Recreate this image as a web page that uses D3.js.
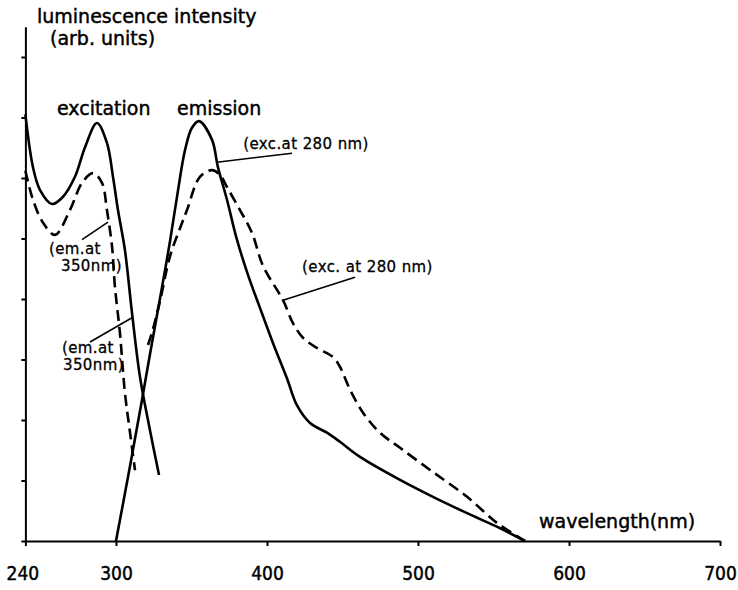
<!DOCTYPE html>
<html>
<head>
<meta charset="utf-8">
<title>luminescence spectra</title>
<script src="https://d3js.org/d3.v7.min.js"></script>
<style>
  body { margin: 0; background: #fff; }
  text { font-family: "DejaVu Sans", sans-serif; fill: #000; stroke: #000; stroke-width: 0.45px; }
</style>
</head>
<body>
<script>
const w = 738;
const h = 590;

// excitation spectra, em. at 350 nm (wavelength nm / intensity arb. units)
const excSolidNm = [240, 245, 249.7, 257.6, 264.9, 272.8, 279.5, 287.4, 294, 298, 301.3, 305.9, 310.6, 315.9, 322.5, 328.5];
const excSolidI  = [7.05, 6.18, 5.80, 5.57, 5.69, 6.02, 6.51, 6.91, 6.58, 6.02, 5.47, 4.81, 3.77, 2.71, 1.83, 1.09];
const excDashNm  = [240, 245, 251.7, 259.6, 269.5, 277.5, 284.8, 290.7, 294, 297.4, 299.3, 302.6, 305.9, 309.3, 312.6];
const excDashI   = [6.12, 5.64, 5.26, 5.06, 5.47, 5.92, 6.08, 5.92, 5.47, 4.86, 4.20, 3.44, 2.45, 1.79, 1.17];

// emission spectra, exc. at 280 nm
const emSolidNm = [300, 309.3, 317.2, 323.8, 330.5, 335.8, 341.1, 345.7, 350.3, 355, 363.6, 367.5, 373.5, 380.1, 387.4, 395.4, 404, 413.2, 419.9, 428.5, 439.7, 448.3, 461.6, 488.1, 509.9, 532.5, 554.4, 570.9];
const emSolidI  = [0, 1.24, 2.33, 3.27, 4.20, 4.96, 5.80, 6.46, 6.83, 6.94, 6.63, 6.18, 5.64, 4.98, 4.40, 3.85, 3.27, 2.69, 2.24, 1.95, 1.79, 1.64, 1.39, 1.01, 0.73, 0.46, 0.21, 0];
const emDashNm  = [321.2, 323.8, 329.1, 335.8, 342.4, 347, 355.6, 363.6, 368.9, 373.5, 382.1, 390.1, 397.3, 410.6, 417.2, 423.8, 433.1, 443.7, 448.3, 455, 463.6, 474.8, 488.1, 509.9, 532.5, 552.3, 570.9];
const emDashI   = [3.24, 3.44, 3.96, 4.71, 5.17, 5.47, 6.02, 6.13, 6.05, 5.85, 5.47, 5.09, 4.55, 3.98, 3.60, 3.36, 3.19, 3.04, 2.88, 2.50, 2.12, 1.79, 1.54, 1.14, 0.73, 0.30, 0];

const xTicks = [240, 300, 400, 500, 600, 700];
const yTicks = [0, 1, 2, 3, 4, 5, 6, 7, 8];

// small labels with leader lines (nm / arb. units)
const noteText   = [["(exc.at 280 nm)"], ["(exc. at 280 nm)"], ["(em.at", "350nm)"], ["(em.at", "350nm)"]];
const noteAt     = [[384.2, 6.48], [423.2, 4.44], [255.6, 4.74], [264.2, 3.11]];
const noteIndent = [0, 0, 12, 1];
const noteFrom   = [[366.8, 6.26], [410.6, 3.98], [294.7, 5.27], [310.6, 3.69]];
const noteTo     = [[416.6, 6.41], [458.3, 4.36], [277.5, 4.98], [282.8, 3.29]];

const svg = d3.select("body")
    .append("svg")
    .attr("width", w)
    .attr("height", h);

const xScale = d3.scaleLinear()
    .domain([240, 700])
    .range([25.4, 720]);

const yScale = d3.scaleLinear()
    .domain([0, 8.5])
    .range([541, 26.75]);

const xAxis = d3.axisBottom(xScale)
    .tickValues(xTicks)
    .tickSize(5)
    .tickPadding(21)
    .tickSizeOuter(0);

const yAxis = d3.axisLeft(yScale)
    .tickValues(yTicks)
    .tickSize(4)
    .tickFormat("")
    .tickSizeOuter(0);

const gx = svg.append("g")
    .attr("transform", "translate(0," + yScale(0) + ")")
    .call(xAxis);
gx.selectAll("text")
    .attr("fill", "#000")
    .style("font-size", "19px")
    .style("font-family", "'DejaVu Sans Condensed', 'DejaVu Sans'");
gx.select(".tick text").attr("dx", -3);

const gy = svg.append("g")
    .attr("transform", "translate(" + xScale(240) + ",0)")
    .call(yAxis);

svg.selectAll(".domain, .tick line")
    .attr("stroke", "#000")
    .attr("stroke-width", 2);

const line = d3.line()
    .x(d => xScale(d[0]))
    .y(d => yScale(d[1]))
    .curve(d3.curveCatmullRom.alpha(0.5));

const series = [
    { nm: excSolidNm, v: excSolidI, dash: null },
    { nm: excDashNm, v: excDashI, dash: "11,6" },
    { nm: emSolidNm, v: emSolidI, dash: null },
    { nm: emDashNm, v: emDashI, dash: "11,6" }
];

series.forEach(s => {
    svg.append("path")
        .datum(s.nm.map((n, i) => [n, s.v[i]]))
        .attr("fill", "none")
        .attr("stroke", "#000")
        .attr("stroke-width", 2.6)
        .attr("stroke-linejoin", "round")
        .attr("stroke-dasharray", s.dash)
        .attr("d", line);
});

// leader lines + small labels
noteText.forEach((lines, i) => {
    svg.append("line")
        .attr("x1", xScale(noteFrom[i][0]))
        .attr("y1", yScale(noteFrom[i][1]))
        .attr("x2", xScale(noteTo[i][0]))
        .attr("y2", yScale(noteTo[i][1]))
        .attr("stroke", "#000")
        .attr("stroke-width", 1.6);
    const t = svg.append("text")
        .attr("x", xScale(noteAt[i][0]))
        .attr("y", yScale(noteAt[i][1]))
        .style("font-size", "15px")
        .style("letter-spacing", "0.4px")
        .style("stroke-width", "0.3px");
    lines.forEach((s, k) => {
        t.append("tspan")
            .attr("x", xScale(noteAt[i][0]) + k * noteIndent[i])
            .attr("dy", k === 0 ? 0 : 17)
            .text(s);
    });
});

// titles
svg.append("text")
    .attr("x", 37).attr("y", 23)
    .style("font-size", "19px")
    .text("luminescence intensity");

svg.append("text")
    .attr("x", 50).attr("y", 45)
    .style("font-size", "19px")
    .text("(arb. units)");

svg.append("text")
    .attr("x", 57).attr("y", 115)
    .style("font-size", "19px")
    .text("excitation");

svg.append("text")
    .attr("x", 177).attr("y", 115)
    .style("font-size", "19px")
    .text("emission");

svg.append("text")
    .attr("x", 539).attr("y", 528)
    .style("font-size", "19px")
    .text("wavelength(nm)");
</script>
</body>
</html>
